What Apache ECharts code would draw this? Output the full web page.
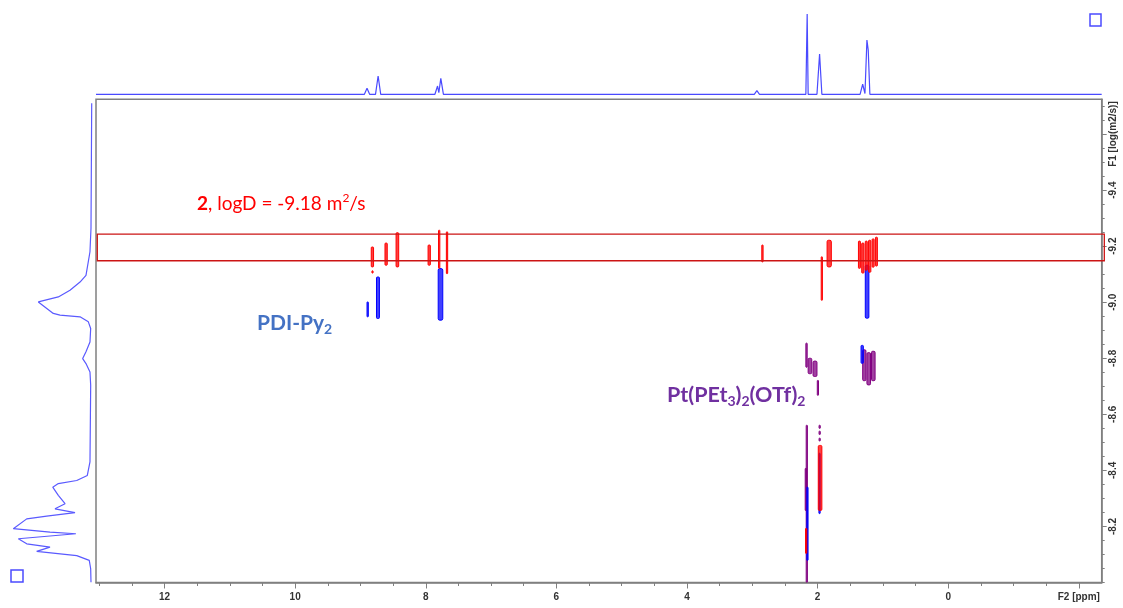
<!DOCTYPE html>
<html><head><meta charset="utf-8">
<script src="https://cdn.jsdelivr.net/npm/echarts@6/dist/echarts.min.js"></script>
<style>html,body{margin:0;padding:0;background:#fff}#c{width:1123px;height:608px}</style>
</head><body><div id="c"></div>
<script>
// ---------------- data ----------------
const f2Range = [-2.35, 13.05];          // F2 chemical shift, ppm
const f1Range = [-9.724, -8.0];          // F1 log(m2/s)
const f2MajorTicks = [-2, 0, 2, 4, 6, 8, 10, 12];
const f1MajorTicks = [-9.6, -9.4, -9.2, -9.0, -8.8, -8.6, -8.4, -8.2];
const f2AxisName = 'F2 [ppm]';
const f1AxisName = 'F1 [log(m2/s)]';

// 1H projection on top: [ppm, intensity]
const f2Projection = [
  [13.05,0],[8.94,0],[8.90,7.5],[8.86,0],[8.77,0],[8.73,22.8],[8.69,0],
  [7.86,0],[7.82,10.3],[7.80,2],[7.77,19.9],[7.73,0],
  [2.97,0],[2.93,4.5],[2.89,0],
  [2.18,0],[2.16,100],[2.145,0],
  [2.01,0],[1.97,50.2],[1.935,0],
  [1.35,0],[1.31,12.5],[1.275,1],[1.245,67.6],[1.225,55],[1.20,0],
  [-2.35,0]
];

// Diffusion projection on the left: [intensity, logD]
const f1Projection = [
  [0,-9.71],[0.9,-9.264],[2.2,-9.180],[7.3,-9.096],[14.9,-9.072],[27.7,-9.043],
  [42.6,-9.019],[68.1,-9.001],[49.0,-8.960],[40.4,-8.954],[14.9,-8.948],[4.3,-8.930],
  [1.3,-8.906],[2.2,-8.858],[7.3,-8.823],[11.5,-8.799],[7.3,-8.781],[2.2,-8.751],
  [1.3,-8.704],[2.2,-8.430],[5.6,-8.382],[19.1,-8.364],[42.6,-8.353],[49.7,-8.340],
  [42.6,-8.311],[34.0,-8.281],[46.8,-8.263],[21.3,-8.249],[57.4,-8.237],[82.9,-8.227],
  [100,-8.192],[53.2,-8.180],[20.2,-8.174],[93.6,-8.156],[82.9,-8.138],[53.2,-8.126],
  [70.2,-8.111],[19.1,-8.096],[3.1,-8.079],[1.3,-8.049],[0.9,-8.001]
];

// contour regions: [ppmHigh, ppmLow, logDtop, logDbottom]
const contoursPt = [   // Pt(PEt3)2(OTf)2, purple
  [2.18,2.16,-8.854,-8.768],[2.145,2.09,-8.80,-8.745],[2.07,2.01,-8.79,-8.735],
  [2.005,1.99,-8.721,-8.668],
  [1.31,1.26,-8.83,-8.72],[1.245,1.19,-8.82,-8.705],[1.175,1.12,-8.825,-8.72],
  [2.175,2.16,-8.561,-8.0],[2.19,2.175,-8.407,-8.257],
  [1.978,1.965,-8.561,-8.550],[1.978,1.965,-8.540,-8.528],[1.978,1.965,-8.515,-8.505]
];
const contoursPDI = [  // PDI-Py2, blue
  [8.90,8.88,-9.001,-8.948],[8.755,8.71,-9.090,-8.942],[7.81,7.74,-9.120,-8.936],
  [1.27,1.215,-9.132,-8.943],[1.335,1.30,-8.846,-8.782],
  [2.165,2.15,-8.34,-8.079],[1.98,1.965,-8.461,-8.246]
];
const contours2 = [    // compound 2, red
  [8.835,8.80,-9.197,-9.126],[8.825,8.812,-9.112,-9.104],[8.625,8.59,-9.211,-9.132],
  [8.455,8.415,-9.248,-9.126],[7.965,7.93,-9.204,-9.132],[7.805,7.785,-9.257,-9.121],
  [7.685,7.665,-9.251,-9.102],[2.855,2.835,-9.204,-9.144],[1.945,1.933,-9.162,-9.007],
  [1.855,1.79,-9.221,-9.126],
  [1.375,1.345,-9.218,-9.121],[1.325,1.29,-9.211,-9.104],[1.27,1.24,-9.218,-9.114],
  [1.22,1.185,-9.221,-9.107],[1.165,1.135,-9.226,-9.125],[1.115,1.085,-9.232,-9.129],
  [2.185,2.17,-8.193,-8.104],[1.99,1.935,-8.489,-8.257]
];
// highlighted band for compound 2: [ppmHigh, ppmLow, logDtop, logDbottom]
const band2 = [[13.03,-2.39,-9.243,-9.148]];

const label2 = ['2', ', logD = -9.18 m', '2', '/s'];
const labelPDI = ['PDI-Py', '2'];
const labelPt = ['Pt(PEt', '3', ')', '2', '(OTf)', '2'];

// ---------------- chart ----------------
const minorX = []; for (let v = -2; v <= 13.001; v += 0.5) minorX.push(+v.toFixed(2));
const minorY = []; for (let v = -9.70; v <= -7.999; v += 0.05) minorY.push(+v.toFixed(2));

const GRAY = '#808080';
const LBL = {fontFamily:'Liberation Sans', fontWeight:'bold', fontSize:10, color:'#333'};
const mainGrid = {left:96, right:21.3, top:99.3, bottom:25.5};

function blobRender(color){
  return function(params, api){
    const p1 = api.coord([api.value(0), api.value(2)]);
    const p2 = api.coord([api.value(1), api.value(3)]);
    const x = Math.min(p1[0],p2[0]), y = Math.min(p1[1],p2[1]);
    const w = Math.max(Math.abs(p2[0]-p1[0]), 1.2), h = Math.abs(p2[1]-p1[1]);
    return {type:'rect', shape:{x:x, y:y, width:w, height:h, r:Math.min(w,h)/3},
      style:{fill:echarts.color.modifyAlpha(color, 0.75), stroke:color, lineWidth:1}};
  };
}
function boxRender(params, api){
  const p1 = api.coord([api.value(0), api.value(2)]);
  const p2 = api.coord([api.value(1), api.value(3)]);
  return {type:'rect', shape:{x:Math.min(p1[0],p2[0]), y:Math.min(p1[1],p2[1]),
    width:Math.abs(p2[0]-p1[0]), height:Math.abs(p2[1]-p1[1])},
    style:{fill:'none', stroke:'#cc1414', lineWidth:1.3}};
}
function blobSeries(data, color){
  return {type:'custom', xAxisIndex:0, yAxisIndex:0, data:data, clip:true,
    encode:{x:[0,1], y:[2,3]}, renderItem:blobRender(color), silent:true, animation:false};
}

const fontAnn = 'Lato';
const option = {
  animation:false,
  backgroundColor:'#fff',
  grid:[
    Object.assign({show:true, borderColor:GRAY, borderWidth:1.5, backgroundColor:'transparent', outerBoundsMode:'none'}, mainGrid),
    {left:96, right:21.3, top:0, height:94.3, outerBoundsMode:'none'},
    {left:0, width:91.7, top:99.3, bottom:25.5, outerBoundsMode:'none'}
  ],
  xAxis:[
    {gridIndex:0, type:'value', min:f2Range[0], max:f2Range[1], inverse:true, position:'bottom',
     axisLine:{show:true, onZero:false, lineStyle:{color:GRAY, width:1.5}},
     axisTick:{show:true, customValues:f2MajorTicks, length:6, lineStyle:{color:GRAY, width:1}},
     axisLabel:Object.assign({customValues:f2MajorTicks, margin:10,
       formatter:v => Math.abs(v+2)<1e-6 ? f2AxisName : String(v)}, LBL),
     splitLine:{show:false}},
    {gridIndex:1, type:'value', min:f2Range[0], max:f2Range[1], inverse:true, show:false},
    {gridIndex:2, type:'value', min:0, max:117, inverse:true, show:false},
    {gridIndex:0, type:'value', min:f2Range[0], max:f2Range[1], inverse:true, position:'bottom',
     axisLine:{show:false, onZero:false},
     axisTick:{show:true, customValues:minorX, length:3.5, lineStyle:{color:GRAY, width:1}},
     axisLabel:{show:false}, splitLine:{show:false}}
  ],
  yAxis:[
    {gridIndex:0, type:'value', min:f1Range[0], max:f1Range[1], inverse:true, position:'right',
     axisLine:{show:true, onZero:false, lineStyle:{color:GRAY, width:1.5}},
     axisTick:{show:true, customValues:f1MajorTicks, length:5, lineStyle:{color:GRAY, width:1}},
     axisLabel:Object.assign({customValues:f1MajorTicks, margin:7, rotate:90,
       formatter:v => Math.abs(v+9.6)<1e-6 ? f1AxisName : v.toFixed(1)}, LBL),
     splitLine:{show:false}},
    {gridIndex:1, type:'value', min:0, max:117.4, show:false},
    {gridIndex:2, type:'value', min:f1Range[0], max:f1Range[1], inverse:true, show:false},
    {gridIndex:0, type:'value', min:f1Range[0], max:f1Range[1], inverse:true, position:'right',
     axisLine:{show:false, onZero:false},
     axisTick:{show:true, customValues:minorY, length:3, lineStyle:{color:GRAY, width:1}},
     axisLabel:{show:false}, splitLine:{show:false}}
  ],
  series:[
    {type:'line', xAxisIndex:1, yAxisIndex:1, data:f2Projection, symbol:'none',
     lineStyle:{color:'#4a4aff', width:1.2}, silent:true},
    {type:'line', xAxisIndex:2, yAxisIndex:2, data:f1Projection, symbol:'none',
     lineStyle:{color:'#5a5aff', width:1.2}, silent:true},
    blobSeries(contoursPt, '#800080'),
    blobSeries(contoursPDI, '#0000ff'),
    blobSeries(contours2, '#ff0000'),
    {type:'custom', xAxisIndex:0, yAxisIndex:0, data:band2, clip:false,
     encode:{x:[0,1], y:[2,3]}, renderItem:boxRender, silent:true}
  ],
  graphic:[
    {type:'text', x:197, y:204, style:{
      text:'{b|'+label2[0]+'}{n|'+label2[1]+'}{sup|'+label2[2]+'}{n|'+label2[3]+'}',
      verticalAlign:'middle', align:'left',
      rich:{
        b:{fontFamily:fontAnn, fontWeight:'bold', fontSize:19, fill:'#ff0000', lineHeight:24, verticalAlign:'middle'},
        n:{fontFamily:fontAnn, fontSize:19, fill:'#ff0000', lineHeight:24, verticalAlign:'middle'},
        sup:{fontFamily:fontAnn, fontSize:12, fill:'#ff0000', lineHeight:12, verticalAlign:'top'}
      }}},
    {type:'text', x:257, y:323, style:{
      text:'{n|'+labelPDI[0]+'}{sub|'+labelPDI[1]+'}',
      verticalAlign:'middle', align:'left',
      rich:{
        n:{fontFamily:fontAnn, fontWeight:'bold', fontSize:21, fill:'#4472c4', lineHeight:26, verticalAlign:'middle'},
        sub:{fontFamily:fontAnn, fontWeight:'bold', fontSize:14, fill:'#4472c4', lineHeight:14, verticalAlign:'bottom'}
      }}},
    {type:'text', x:667, y:395, style:{
      text:'{n|'+labelPt[0]+'}{sub|'+labelPt[1]+'}{n|'+labelPt[2]+'}{sub|'+labelPt[3]+'}{n|'+labelPt[4]+'}{sub|'+labelPt[5]+'}',
      verticalAlign:'middle', align:'left',
      rich:{
        n:{fontFamily:fontAnn, fontWeight:'bold', fontSize:21.5, fill:'#7030a0', lineHeight:26, verticalAlign:'middle'},
        sub:{fontFamily:fontAnn, fontWeight:'bold', fontSize:14, fill:'#7030a0', lineHeight:14, verticalAlign:'bottom'}
      }}},
    {type:'rect', shape:{x:1090, y:14, width:11, height:12}, style:{fill:'none', stroke:'#4b4bff', lineWidth:1.5}},
    {type:'rect', shape:{x:11, y:570, width:12, height:12}, style:{fill:'none', stroke:'#4b4bff', lineWidth:1.5}}
  ]
};
const chart = echarts.init(document.getElementById('c'), null, {renderer:'canvas'});
chart.setOption(option);
</script>
</body></html>
